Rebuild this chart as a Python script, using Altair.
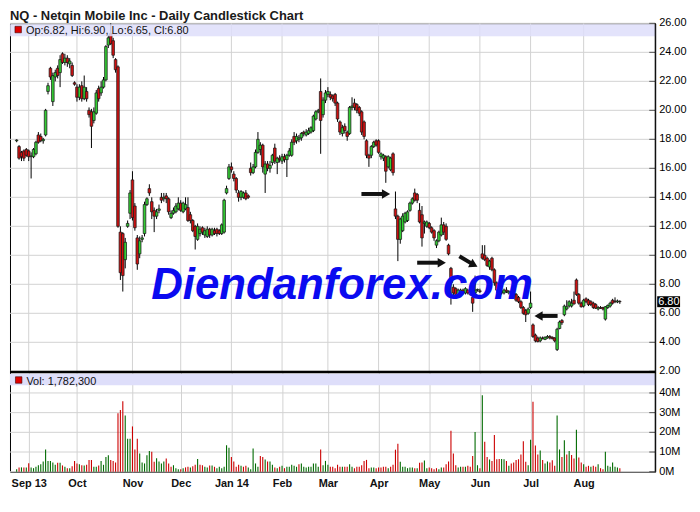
import altair as alt
import pandas as pd

# ---------------- data ----------------
# one row per trading day, 26 Aug 2013 .. 22 Aug 2014 (values in USD)
open_ = [
    17.9, 17.5, 17.1, 17.2, 17.3,                                                      # Aug 13
    17.2, 16.8, 16.8, 17.0, 18.3, 18.2, 17.9, 18.3, 21.3, 22.9, 20.6, 22.3, 22.9, 22.6, 23.9,
    23.3, 23.6, 23.2, 23.1, 21.9,                                                      # Sep
    21.6, 20.9, 21.7, 20.8, 21.3, 20.0, 19.9, 19.3, 19.8, 21.5, 21.2, 21.6, 22.1, 24.5, 25.3,
    24.8, 23.5, 23.0, 11.6, 11.5, 9.7, 12.0, 12.9,                                     # Oct
    15.2, 13.4, 11.2, 10.1, 11.1, 11.5, 13.5, 14.6, 13.7, 13.1, 12.7, 13.1, 14.0, 13.9, 14.1,
    13.9, 12.6, 12.9, 13.0, 13.2,                                                      # Nov
    13.6, 13.0, 13.2, 13.3, 12.8, 12.4, 12.0, 11.1, 11.5, 11.9, 11.4, 11.3, 11.8, 11.4, 11.7,
    11.8, 11.7, 11.5, 11.6, 14.3, 15.3,                                                # Dec
    16.1, 15.6, 15.3, 14.3, 14.0, 14.0, 14.3, 14.1, 16.0, 15.7, 16.1, 17.1, 17.3, 17.6, 15.6,
    16.3, 16.0, 16.4, 17.4, 16.4, 16.7,                                                # Jan 14
    16.5, 16.8, 16.6, 16.9, 16.9, 18.2, 17.9, 18.0, 18.1, 18.5, 18.3, 18.4, 18.5, 18.6, 19.4,
    19.9, 21.3, 19.7, 20.7,                                                            # Feb
    21.1, 21.1, 21.0, 21.1, 20.5, 19.2, 18.4, 18.9, 18.5, 18.4, 20.2, 20.5, 20.4, 20.2, 19.9,
    19.2, 17.9, 16.9, 16.9, 17.5, 17.9,                                                # Mar
    17.9, 16.8, 16.7, 16.8, 16.1, 15.9, 17.0, 13.2, 12.7, 11.1, 11.7, 12.3, 12.4, 13.1, 13.6,
    14.3, 14.2, 13.1, 12.8, 12.2, 12.0,                                                # Apr
    12.2, 11.9, 11.7, 10.7, 11.0, 11.4, 12.1, 12.0, 10.7, 9.1, 7.8, 7.7, 7.3, 7.3, 7.6,
    7.4, 7.6, 7.5, 7.1, 7.4, 7.6,                                                      # May
    7.55, 10.1, 10.0, 9.8, 9.2, 9.8, 9.0, 8.1, 7.6, 7.4, 7.4, 7.6, 7.4, 7.5, 7.4,
    7.3, 7.1, 6.8, 6.4, 6.2, 6.0,                                                      # Jun
    6.4, 5.2, 4.5, 4.3, 4.1, 4.3, 4.2, 4.3, 4.4, 4.35, 4.3, 3.5, 4.95, 5.5, 5.9,
    6.3, 6.5, 6.5, 6.9, 8.3, 7.3, 6.7,                                                 # Jul
    6.5, 7.0, 6.9, 6.8, 6.7, 6.6, 6.3, 6.4, 6.4, 5.6, 6.4, 6.5, 6.9, 6.85, 6.78, 6.82,  # Aug
]
high = [
    18.0, 17.6, 17.2, 17.3, 17.4,
    17.3, 17.1, 17.4, 17.9, 18.5, 18.4, 18.1, 20.1, 21.9, 23.0, 22.6, 22.8, 23.1, 23.8, 24.0,
    23.9, 23.8, 23.6, 23.3, 22.0,
    21.8, 21.8, 22.0, 22.4, 21.6, 20.2, 20.1, 20.2, 21.4, 21.7, 22.0, 22.3, 24.5, 25.2, 26.0,
    25.0, 23.6, 23.1, 12.0, 11.6, 11.2, 12.4, 14.5,
    15.8, 13.6, 11.4, 11.3, 11.4, 13.7, 14.0, 14.9, 14.0, 13.3, 13.2, 13.5, 14.3, 14.3, 14.3,
    14.0, 13.1, 13.3, 13.6, 14.0,
    13.8, 13.7, 14.0, 14.0, 13.0, 12.5, 12.1, 12.2, 12.0, 12.0, 11.9, 12.0, 11.9, 11.9, 11.9,
    11.9, 11.8, 12.2, 13.9, 14.8, 16.3,
    16.4, 15.8, 15.4, 14.5, 14.5, 14.4, 14.5, 14.2, 16.4, 16.3, 17.3, 18.5, 17.8, 17.7, 16.5,
    16.5, 16.5, 17.0, 17.7, 16.8, 16.9,
    17.0, 17.0, 17.0, 17.4, 18.0, 18.5, 18.4, 18.3, 18.5, 18.6, 18.7, 18.8, 18.9, 19.7, 20.0,
    20.1, 22.2, 20.9, 21.4,
    21.6, 21.3, 21.1, 21.2, 20.6, 19.3, 19.0, 19.1, 18.6, 20.3, 20.9, 20.8, 20.5, 20.3, 20.0,
    19.3, 18.0, 17.0, 17.6, 17.9, 18.0,
    18.0, 17.1, 17.0, 16.9, 16.9, 16.8, 17.1, 14.4, 12.8, 12.6, 12.9, 13.0, 13.1, 13.7, 14.0,
    14.6, 14.3, 13.6, 13.4, 12.4, 12.4,
    12.3, 12.0, 11.8, 11.1, 11.7, 12.6, 12.3, 12.2, 10.8, 9.2, 8.0, 7.8, 7.7, 7.7, 7.7,
    7.8, 7.7, 7.6, 7.2, 8.6, 7.7,
    7.7, 10.7, 10.7, 9.9, 9.7, 9.9, 9.1, 8.2, 7.7, 7.6, 7.7, 7.8, 7.6, 7.6, 7.5,
    7.4, 7.2, 6.9, 6.5, 6.3, 6.4,
    7.5, 5.3, 4.6, 4.4, 4.4, 4.4, 4.4, 4.5, 4.5, 4.4, 4.35, 5.0, 5.5, 5.6, 6.6,
    6.9, 6.9, 7.0, 7.5, 8.4, 7.4, 6.8,
    7.0, 7.1, 7.0, 6.9, 6.8, 6.7, 6.5, 6.5, 6.45, 6.5, 6.6, 6.8, 7.0, 7.1, 6.95, 6.90,
]
low = [
    17.8, 16.6, 16.5, 16.5, 16.8,
    16.5, 15.3, 16.7, 16.9, 17.7, 17.8, 17.7, 18.2, 21.1, 22.1, 20.3, 22.0, 22.2, 21.6, 23.2,
    23.1, 23.0, 22.9, 22.3, 21.7,
    20.6, 20.7, 20.6, 20.7, 20.6, 19.5, 17.4, 19.1, 19.7, 20.6, 21.0, 21.5, 22.0, 24.3, 24.5,
    23.6, 22.6, 11.9, 8.3, 7.5, 9.1, 11.9, 12.5,
    12.4, 11.7, 9.0, 9.8, 10.9, 11.3, 13.4, 14.1, 12.5, 11.6, 12.5, 12.9, 13.6, 13.7, 13.6,
    12.8, 12.5, 12.8, 12.9, 13.1,
    13.0, 12.9, 13.1, 12.3, 12.2, 11.6, 10.4, 11.0, 11.3, 11.4, 11.2, 11.2, 11.2, 11.3, 11.4,
    11.3, 11.4, 11.4, 11.5, 14.2, 15.2,
    15.7, 15.1, 14.3, 13.7, 13.8, 13.9, 13.8, 13.9, 15.5, 15.6, 16.0, 17.0, 16.9, 15.7, 14.3,
    15.8, 15.7, 16.2, 16.3, 15.6, 16.4,
    16.3, 16.4, 15.4, 16.8, 16.8, 17.6, 17.7, 17.8, 17.9, 18.2, 18.2, 18.3, 18.4, 18.5, 19.3,
    19.8, 17.0, 19.5, 20.5,
    20.9, 20.7, 20.6, 20.3, 19.2, 18.3, 18.2, 18.4, 17.9, 18.3, 20.0, 20.0, 19.8, 19.6, 18.3,
    18.0, 16.7, 16.1, 16.7, 17.4, 17.5,
    17.0, 16.6, 16.5, 15.0, 16.0, 15.8, 15.5, 12.5, 9.6, 10.8, 11.6, 12.2, 12.3, 13.0, 13.5,
    13.7, 13.6, 12.2, 10.6, 11.5, 11.9,
    11.8, 11.5, 11.0, 10.5, 10.9, 11.3, 11.4, 11.0, 10.0, 6.6, 7.2, 7.2, 7.2, 7.2, 7.3,
    7.3, 7.3, 7.2, 6.1, 7.3, 7.5,
    7.4, 9.7, 9.6, 9.2, 9.0, 8.9, 7.9, 7.4, 7.3, 7.3, 7.3, 7.4, 7.3, 7.3, 7.2,
    6.8, 6.7, 6.3, 5.9, 5.4, 5.9,
    6.3, 4.3, 4.0, 4.0, 4.0, 4.2, 4.15, 4.25, 4.2, 4.2, 4.0, 3.4, 4.9, 5.2, 5.8,
    6.2, 6.4, 6.4, 6.6, 7.2, 6.6, 6.4,
    6.4, 6.7, 6.5, 6.5, 6.3, 6.3, 6.2, 6.3, 6.2, 5.5, 6.3, 6.4, 6.6, 6.7, 6.7, 6.65,
]
close = [
    17.95, 16.7, 16.8, 16.7, 16.9,
    16.8, 16.85, 17.3, 17.8, 17.8, 17.9, 18.0, 20.0, 21.7, 22.3, 22.4, 22.6, 22.4, 23.5, 23.3,
    23.6, 23.3, 23.4, 22.4, 21.8,
    20.9, 21.6, 20.8, 21.6, 20.8, 19.7, 18.9, 19.9, 21.2, 20.8, 21.6, 22.1, 24.4, 25.0, 24.6,
    23.8, 22.8, 12.0, 8.8, 8.6, 10.9, 12.2, 14.3,
    12.6, 11.9, 9.4, 11.0, 11.2, 13.5, 13.9, 14.3, 13.0, 12.7, 13.0, 13.2, 13.8, 14.0, 13.9,
    13.0, 12.9, 13.1, 13.4, 13.6,
    13.1, 13.6, 13.5, 12.4, 12.4, 11.7, 11.3, 12.0, 11.8, 11.6, 11.7, 11.8, 11.4, 11.8, 11.5,
    11.5, 11.5, 12.1, 13.8, 14.6, 16.1,
    15.9, 15.3, 14.5, 14.0, 14.4, 14.3, 13.9, 14.0, 15.7, 16.1, 17.1, 18.0, 17.6, 16.1, 16.3,
    16.0, 16.2, 16.9, 16.5, 16.7, 16.6,
    16.8, 16.6, 16.9, 17.2, 17.8, 17.8, 18.2, 18.1, 18.4, 18.4, 18.5, 18.6, 18.8, 19.6, 19.9,
    20.0, 19.3, 20.7, 21.2,
    21.3, 20.9, 20.8, 20.5, 19.4, 18.5, 18.8, 18.6, 18.2, 20.2, 20.3, 20.2, 20.0, 19.8, 18.5,
    18.2, 16.9, 16.7, 17.5, 17.8, 17.6,
    17.1, 17.0, 16.9, 15.8, 16.8, 16.7, 15.7, 12.7, 11.1, 12.5, 12.7, 12.9, 13.0, 13.6, 13.9,
    13.8, 13.8, 12.3, 11.2, 12.3, 12.3,
    11.9, 11.6, 11.2, 11.0, 11.6, 12.1, 11.6, 11.1, 10.1, 8.1, 7.4, 7.3, 7.6, 7.6, 7.4,
    7.7, 7.4, 7.3, 6.7, 7.6, 7.65,
    7.5, 9.8, 9.7, 9.3, 9.6, 9.0, 8.1, 7.6, 7.5, 7.5, 7.6, 7.5, 7.5, 7.4, 7.3,
    6.9, 6.8, 6.4, 6.0, 5.9, 6.3,
    6.7, 4.4, 4.1, 4.05, 4.3, 4.25, 4.35, 4.4, 4.3, 4.25, 4.1, 4.9, 5.4, 5.35, 6.5,
    6.45, 6.8, 6.7, 6.65, 7.3, 6.7, 6.45,
    6.9, 6.8, 6.6, 6.6, 6.4, 6.35, 6.4, 6.35, 6.3, 6.45, 6.55, 6.7, 6.7, 6.8, 6.85, 6.80,
]
# daily volume, millions of shares
volume_m = [
    1.3, 2.2, 2.2, 2.2, 2.2, 4.3, 2.2, 1.8, 2.5, 3.3, 3.8, 5.2, 11.3, 5.5, 5.5, 4.7, 3.5, 4.5, 4.5, 3.2,
    2.5, 1.8, 1.8, 2.8, 5.5, 4.2, 3.8, 3.3, 3.2, 3.5, 6.0, 6.0, 2.5, 2.5, 3.2, 5.5, 3.5, 7.5, 8.3, 6.0,
    5.5, 4.7, 29.7, 31.3, 35.8, 28.5, 16.7, 16.8, 23.0, 11.3, 16.8, 9.3, 4.7, 4.2, 8.3, 10.5, 10.2, 5.0, 6.8, 5.2,
    4.2, 5.2, 6.7, 4.2, 2.5, 3.3, 1.8, 1.3, 1.3, 1.8, 2.2, 2.5, 2.2, 2.8, 3.5, 6.5, 3.5, 3.3, 2.5, 2.2,
    3.2, 3.2, 2.5, 1.8, 2.5, 1.8, 2.5, 13.5, 12.2, 7.5, 5.2, 2.5, 3.5, 3.0, 2.5, 3.0, 2.2, 1.3, 11.8, 4.2,
    2.5, 8.0, 7.5, 6.2, 5.2, 5.2, 3.5, 2.2, 1.7, 2.5, 3.0, 1.8, 2.5, 2.5, 3.5, 3.0, 2.5, 3.8, 4.2, 2.5,
    2.2, 2.5, 2.5, 4.2, 4.2, 2.5, 11.3, 3.3, 5.5, 3.5, 2.5, 2.5, 1.8, 3.5, 2.5, 2.5, 2.5,
    2.5, 3.8, 2.5, 1.8, 2.5, 2.5, 3.3, 5.5, 6.0, 1.8, 2.2, 2.2, 1.8, 2.2, 2.2, 2.5, 2.5, 1.8, 2.5, 3.5,
    11.2, 14.2, 5.0, 2.5, 2.5, 1.8, 2.2, 2.2, 1.7, 1.8, 4.5, 4.7, 5.7, 1.8, 2.2, 1.8, 1.3, 1.8, 1.3, 2.2,
    2.2, 3.8, 5.2, 20.8, 9.2, 3.3, 2.2, 2.5, 2.5, 2.5, 3.0, 2.5, 8.0, 20.2, 3.3, 1.8, 38.8, 15.2, 7.5, 6.2,
    5.5, 18.7, 6.3, 6.5, 6.5, 6.3, 5.5, 3.0, 4.2, 4.7, 6.0, 6.3, 8.8, 15.5, 5.0, 3.3, 16.2, 35.5, 13.3, 8.8,
    10.8, 6.0, 4.2, 5.2, 4.7, 5.8, 3.0, 28.5, 11.3, 7.5, 16.0, 8.8, 10.5, 8.5, 6.7, 21.3, 7.2, 4.7, 3.8, 2.5,
    3.0, 2.5, 3.0, 2.5, 3.8, 1.8, 1.3, 10.2, 3.0, 2.5, 4.7, 2.5, 2.2, 1.7823,
]
last_volume = 1782300

# month tick positions (trading-day index of first session) and labels
tick_idx = [5, 25, 48, 68, 89, 110, 129, 150, 171, 192, 213, 235]
tick_lab = ["Sep 13", "Oct", "Nov", "Dec", "Jan 14", "Feb", "Mar", "Apr", "May", "Jun", "Jul", "Aug"]
price_ticks = [2, 4, 6, 8, 10, 12, 14, 16, 18, 20, 22, 24, 26]
volume_ticks_m = [0, 10, 20, 30, 40]

# annotation arrows drawn on the chart (trading-day index, price)
arrow_tail_i = [142.9, 166.0, 183.5, 224.2]
arrow_tail_p = [14.23, 9.49, 9.93, 5.82]
arrow_head_i = [153.1, 176.2, 189.5, 216.3]
arrow_head_p = [14.23, 9.49, 9.34, 5.82]
arrow_shape = ["triangle-right", "triangle-right", "triangle-right", "triangle-left"]
arrow_angle = [0, 0, 28, 0]

title_text = "NQ - Netqin Mobile Inc - Daily Candlestick Chart"
watermark = "Diendanforex.com"

# ---------------- build ----------------
n = len(close)
assert len(open_) == n and len(high) == n and len(low) == n and len(volume_m) == n

df = pd.DataFrame({"i": list(range(n)), "o": open_, "h": high, "l": low, "c": close,
                   "v": [x * 1e6 for x in volume_m]})
prev = df["c"].shift(1).fillna(df["o"])
df["vup"] = df["c"] >= prev

arrows = pd.DataFrame({"ti": arrow_tail_i, "tp": arrow_tail_p, "hi": arrow_head_i,
                       "hp": arrow_head_p, "shape": arrow_shape, "angle": arrow_angle})
one = pd.DataFrame({"k": [0]})
lo, hi_, lw, lc = open_[-1], high[-1], low[-1], close[-1]
last = pd.DataFrame({"p": [lc], "t": [f"{lc:.2f}"]})
pticks = pd.DataFrame({"gp": price_ticks, "lab": [f"{v:.2f}" for v in price_ticks]})
vticks = pd.DataFrame({"gv": [m * 1e6 for m in volume_ticks_m], "lab": [f"{m}M" for m in volume_ticks_m]})
mticks = pd.DataFrame({"gi": tick_idx})

W, HP, HV = 649, 350, 101
FONT = "Liberation Sans"
GRID = "#d2d2d2"
GREEN, RED = "#33cc33", "#d01010"

xs = alt.Scale(domain=[-0.7, 262.6], nice=False, zero=False)
ys = alt.Scale(domain=[2, 26], nice=False, zero=False)
vs = alt.Scale(domain=[0, 51e6], nice=False, zero=True)

label_expr = " : ".join(f"datum.value == {k} ? '{s}'" for k, s in zip(tick_idx, tick_lab)) + " : ''"
legend_txt = f"Op:{lo:.2f}, Hi:{hi_:.2f}, Lo:{lw:.2f}, Cl:{lc:.2f}"

X_NA = dict(scale=xs, axis=None)
Y_NA = dict(scale=ys, axis=None)
V_NA = dict(scale=vs, axis=None)

# ---- price panel ----
hgrid = alt.Chart(pticks).mark_rule(color=GRID, strokeWidth=1).encode(
    x=alt.value(0), x2=alt.value(W), y=alt.Y("gp:Q", **Y_NA))
pinticks = alt.Chart(pticks).mark_rule(color="#555", strokeWidth=1).encode(
    x=alt.value(W - 6), x2=alt.value(W), y=alt.Y("gp:Q", **Y_NA))
vgrid = alt.Chart(mticks).mark_rule(color=GRID, strokeWidth=1).encode(
    x=alt.X("gi:Q", **X_NA), y=alt.value(0), y2=alt.value(HP))
plabels = alt.Chart(pticks).mark_text(align="left", baseline="middle", fontSize=11, font=FONT,
                                      color="#000").encode(
    x=alt.value(W + 4), y=alt.Y("gp:Q", **Y_NA), text="lab:N")
right_edge = alt.Chart(one).mark_rule(color="#000", strokeWidth=1).encode(
    x=alt.value(W), y=alt.value(0), y2=alt.value(HP))

wicks = alt.Chart(df).mark_rule(color="#000", strokeWidth=1).encode(
    x=alt.X("i:Q", **X_NA), y=alt.Y("l:Q", **Y_NA), y2="h:Q")
bodies = alt.Chart(df).mark_bar(size=2.6, stroke="#1a1a1a", strokeWidth=0.75).encode(
    x=alt.X("i:Q", **X_NA), y=alt.Y("o:Q", **Y_NA), y2="c:Q",
    fill=alt.condition("datum.c >= datum.o", alt.value(GREEN), alt.value(RED)))

band = alt.Chart(one).mark_rect(color="#dedefa", opacity=0.85).encode(
    x=alt.value(0), x2=alt.value(W), y=alt.value(1), y2=alt.value(13))
leg_sq = alt.Chart(one).mark_rect(color="#e00000", stroke="#400000", strokeWidth=0.6).encode(
    x=alt.value(5), x2=alt.value(11.5), y=alt.value(3), y2=alt.value(9.5))
leg_txt = alt.Chart(one).mark_text(align="left", baseline="alphabetic", fontSize=11, font=FONT,
                                   color="#111").encode(x=alt.value(16), y=alt.value(11), text=alt.value(legend_txt))
title = alt.Chart(one).mark_text(align="left", baseline="alphabetic", fontSize=13, fontWeight="bold",
                                 font=FONT, color="#1a1a1a").encode(
    x=alt.value(0), y=alt.value(-3), text=alt.value(title_text))
wm = alt.Chart(one).mark_text(align="center", baseline="alphabetic", fontSize=44, fontWeight="bold",
                              fontStyle="italic", font=FONT, color="#0a0af0").encode(
    x=alt.value(334), y=alt.value(277), text=alt.value(watermark))
shafts = alt.Chart(arrows).mark_rule(color="#111", strokeWidth=4).encode(
    x=alt.X("ti:Q", **X_NA), y=alt.Y("tp:Q", **Y_NA), x2="hi:Q", y2="hp:Q")
heads = alt.Chart(arrows).mark_point(filled=True, size=90, color="#111", opacity=1).encode(
    x=alt.X("hi:Q", **X_NA), y=alt.Y("hp:Q", **Y_NA),
    shape=alt.Shape("shape:N", scale=None), angle=alt.Angle("angle:Q", scale=None))
marker_box = alt.Chart(last).mark_rect(color="#000", yOffset=-5.5, y2Offset=5.5).encode(
    x=alt.value(W + 2), x2=alt.value(W + 25), y=alt.Y("p:Q", **Y_NA), y2="p:Q")
marker_txt = alt.Chart(last).mark_text(align="left", baseline="middle", fontSize=11, font=FONT,
                                       color="#fff").encode(
    x=alt.value(W + 3), y=alt.Y("p:Q", **Y_NA), text="t:N")

price = alt.layer(hgrid, vgrid, pinticks, wicks, bodies, shafts, heads, wm, band, leg_sq, leg_txt, title,
                  plabels, right_edge, marker_box, marker_txt).properties(width=W, height=HP)

# ---- volume panel ----
x_vol = alt.X("i:Q", scale=xs, axis=alt.Axis(values=tick_idx, labelExpr=label_expr, ticks=False, domain=False,
                                             grid=True, gridColor=GRID, title=None, labelFontSize=11,
                                             labelFontWeight="bold", labelFont=FONT, labelColor="#111",
                                             labelPadding=6, labelFlush=False, labelOverlap=False))
vhgrid = alt.Chart(vticks).mark_rule(color=GRID, strokeWidth=1).encode(
    x=alt.value(0), x2=alt.value(W), y=alt.Y("gv:Q", **V_NA))
vol_bars = alt.Chart(df).mark_bar(size=1.1).encode(
    x=x_vol, y=alt.Y("v:Q", **V_NA),
    fill=alt.condition("datum.vup", alt.value("#006a00"), alt.value("#cc0000")))
vinticks = alt.Chart(vticks).mark_rule(color="#555", strokeWidth=1).encode(
    x=alt.value(W - 6), x2=alt.value(W), y=alt.Y("gv:Q", **V_NA))
vlabels = alt.Chart(vticks).mark_text(align="left", baseline="middle", fontSize=11, font=FONT,
                                      color="#000").encode(
    x=alt.value(W + 4), y=alt.Y("gv:Q", **V_NA), text="lab:N")
vright = alt.Chart(one).mark_rule(color="#000", strokeWidth=1).encode(
    x=alt.value(W), y=alt.value(0), y2=alt.value(HV))
vband = alt.Chart(one).mark_rect(color="#dedefa").encode(
    x=alt.value(0), x2=alt.value(W), y=alt.value(2.5), y2=alt.value(14))
vsq = alt.Chart(one).mark_rect(color="#e00000", stroke="#400000", strokeWidth=0.6).encode(
    x=alt.value(5.5), x2=alt.value(12), y=alt.value(5.5), y2=alt.value(12))
vtxt = alt.Chart(one).mark_text(align="left", baseline="alphabetic", fontSize=11, font=FONT,
                                color="#111").encode(x=alt.value(16.5), y=alt.value(13.3),
                                                     text=alt.value(f"Vol: {last_volume:,}"))
divider = alt.Chart(one).mark_rule(color="#000", strokeWidth=2.5).encode(
    x=alt.value(0), x2=alt.value(W), y=alt.value(0.6))

volume = alt.layer(vhgrid, vol_bars, vinticks, vband, vsq, vtxt, vlabels, vright,
                   divider).properties(width=W, height=HV)

chart = alt.vconcat(price, volume, spacing=0, bounds="flush").properties(
    padding={"left": 0, "top": 0, "right": 4, "bottom": 4}, background="#ffffff"
).configure_view(stroke="#000", strokeWidth=1)

chart.save("out.html", embed_options={"renderer": "svg", "actions": False})
